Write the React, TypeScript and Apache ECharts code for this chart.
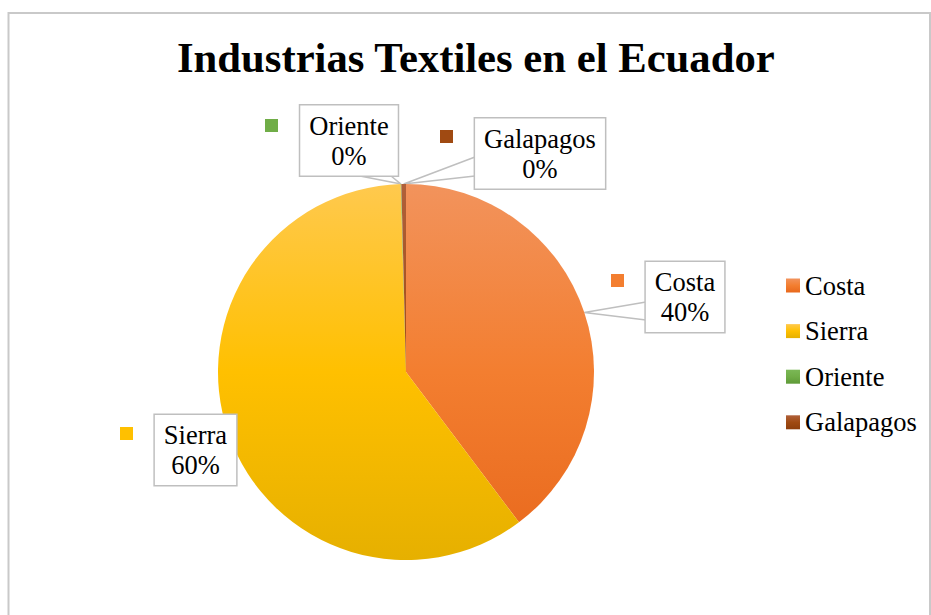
import React, { useEffect, useRef } from "react";
import * as echarts from "echarts";

const TITLE = "Industrias Textiles en el Ecuador";
const categories = ["Costa", "Sierra", "Oriente", "Galapagos"];
const values = [40, 60.2, 0.05, 0.4];
const topColors = ["#F2935C", "#FFC94E", "#7BB856", "#B0603A"];
const midColors = ["#F37E30", "#FFC000", "#70AD47", "#A04A12"];
const bottomColors = ["#E8681C", "#E6B000", "#5E9A38", "#8E3E0C"];

// label box centres, callout wedge attachment points and key squares (layout only)
const labelPos: Record<string, [number, number]> = {
  Costa: [685, 297],
  Sierra: [195.5, 450],
  Oriente: [349, 140.5],
  Galapagos: [540, 153.5],
};
const wedgePos: Record<string, number[][] | null> = {
  Costa: [[646, 302], [646, 320]],
  Sierra: null,
  Oriente: [[360, 176], [391, 176]],
  Galapagos: [[475, 157], [475, 176]],
};
const keyPos: Record<string, [number, number]> = {
  Costa: [611, 274],
  Sierra: [120, 427],
  Oriente: [265, 119],
  Galapagos: [440, 130],
};

const FONT = "'Liberation Serif', 'Times New Roman', serif";

function grad(i: number, global: boolean) {
  return {
    type: "linear",
    x: 0,
    y: global ? 184 : 0,
    x2: 0,
    y2: global ? 560 : 1,
    global,
    colorStops: [
      { offset: 0, color: topColors[i] },
      { offset: 0.5, color: midColors[i] },
      { offset: 1, color: bottomColors[i] },
    ],
  };
}

export default function App() {
  const ref = useRef<HTMLDivElement>(null);
  useEffect(() => {
    if (!ref.current) return;
    const chart = echarts.init(ref.current, undefined, { renderer: "svg" });
    const mainData = categories.map((name, i) => ({
      name,
      value: values[i],
      itemStyle: { color: grad(i, true) },
    }));
    const keyData = categories.map((name, i) => ({
      name,
      value: values[i],
      label: {
        rich: {
          s: { width: 13, height: 13, backgroundColor: midColors[i] },
        },
      },
    }));
    chart.setOption({
      animation: false,
      backgroundColor: "#ffffff",
      color: midColors,
      title: {
        text: TITLE,
        left: 177,
        top: 36,
        padding: 0,
        textStyle: {
          fontFamily: FONT,
          fontSize: 42.7,
          fontWeight: "bold",
          color: "#000000",
        },
      },
      legend: {
        orient: "vertical",
        left: 786,
        top: 272,
        padding: 0,
        icon: "rect",
        itemWidth: 14,
        itemHeight: 14,
        itemGap: 18.6,
        data: categories.map((name, i) => ({
          name,
          itemStyle: { color: grad(i, false) },
        })),
        textStyle: {
          fontFamily: FONT,
          fontSize: 26.5,
          lineHeight: 26,
          color: "#000000",
        },
      },
      graphic: [
        {
          type: "rect",
          shape: { x: 8.5, y: 13, width: 921.5, height: 700 },
          style: { fill: "none", stroke: "#C9C9C9", lineWidth: 2 },
          silent: true,
        },
      ],
      series: [
        {
          type: "pie",
          center: [406, 372],
          radius: [0, 188],
          startAngle: 90,
          clockwise: true,
          avoidLabelOverlap: false,
          data: mainData,
          label: {
            show: true,
            position: "outside",
            formatter: (p: any) => `${p.name}\n${Math.round(p.percent)}%`,
            fontFamily: FONT,
            fontSize: 26.5,
            lineHeight: 30,
            color: "#000000",
            align: "center",
            backgroundColor: "#ffffff",
            borderColor: "#BFBFBF",
            borderWidth: 1.5,
            padding: [5, 9],
          },
          labelLine: {
            show: true,
            length: 10,
            length2: 10,
            lineStyle: { color: "#BFBFBF", width: 1.5 },
          },
          labelLayout: (params: any) => {
            const name = categories[params.dataIndex];
            const p = labelPos[name];
            const w = wedgePos[name];
            const out: any = { x: p[0], y: p[1], align: "center", verticalAlign: "middle" };
            const pts = params.labelLinePoints;
            if (pts && pts.length) {
              const a = pts[0];
              out.labelLinePoints = w ? [w[0], a, w[1]] : [a, a, a];
            }
            return out;
          },
          z: 2,
        },
        {
          type: "pie",
          center: [406, 372],
          radius: [0, 188],
          startAngle: 90,
          silent: true,
          data: keyData,
          itemStyle: { color: "rgba(0,0,0,0)" },
          label: {
            show: true,
            position: "outside",
            formatter: "{s|}",
          },
          labelLine: { show: false },
          labelLayout: (params: any) => {
            const name = categories[params.dataIndex];
            const p = keyPos[name];
            return { x: p[0], y: p[1], align: "left", verticalAlign: "top" };
          },
          z: 3,
        },
      ],
    });
    return () => chart.dispose();
  }, []);
  return (
    <div
      ref={ref}
      style={{ position: "absolute", left: 0, top: 0, width: 931, height: 615 }}
    />
  );
}
